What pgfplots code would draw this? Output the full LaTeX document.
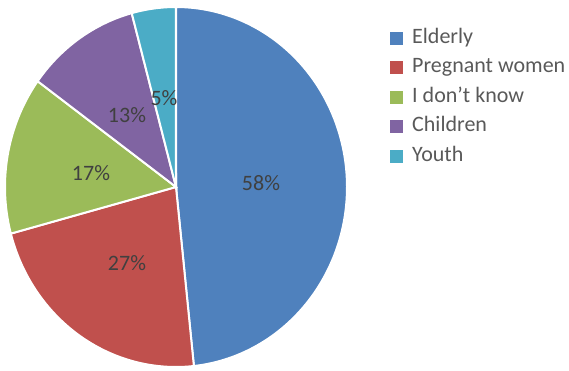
\documentclass[border=0pt]{standalone}
\usepackage{pgfplots}
\pgfplotsset{compat=1.18}
\usepackage{fontspec}
\setmainfont{Carlito}
\definecolor{cElderly}{HTML}{4F81BD}
\definecolor{cPregnant}{HTML}{C0504D}
\definecolor{cDontknow}{HTML}{9BBB59}
\definecolor{cChildren}{HTML}{8064A2}
\definecolor{cYouth}{HTML}{4BACC6}
\definecolor{labelgray}{HTML}{404040}
\definecolor{legendgray}{HTML}{595959}
% data (percent values as shown on the chart)
\def\vA{58}\def\vB{27}\def\vC{17}\def\vD{13}\def\vE{5}
\pgfmathsetmacro\tot{\vA+\vB+\vC+\vD+\vE}
\pgfmathsetmacro\aA{90-\vA/\tot*360}
\pgfmathsetmacro\aB{\aA-\vB/\tot*360}
\pgfmathsetmacro\aC{\aB-\vC/\tot*360}
\pgfmathsetmacro\aD{\aC-\vD/\tot*360}
\pgfmathsetmacro\aE{\aD-\vE/\tot*360}
\def\cx{176}\def\cy{183}\def\rx{171}\def\ry{180}
\begin{document}
\begin{tikzpicture}
\begin{axis}[
  scale only axis, width=569pt, height=370pt,
  xmin=0, xmax=569, ymin=0, ymax=370,
  hide axis, clip=false,
  legend style={draw=none, fill=none, at={(axis cs:390,344)}, anchor=north west,
    inner sep=0pt, row sep=5.5pt, column sep=7pt, text=legendgray,
    font=\fontsize{22}{26}\selectfont,
    nodes={text height=15pt, text depth=5pt, inner sep=2pt}},
  legend image code/.code={\fill[#1,draw=none] (0pt,-6.5pt) rectangle (13pt,6.5pt);},
  legend cell align=left,
]
\path (axis cs:0,0) rectangle (axis cs:569,370);
\addplot[fill=cElderly, draw=white, line width=2pt, domain=\aA:90, samples=150]
  ({\cx+\rx*cos(x)},{\cy+\ry*sin(x)}) -- (axis cs:\cx,\cy) -- cycle;
\addlegendentry{Elderly}
\addplot[fill=cPregnant, draw=white, line width=2pt, domain=\aB:\aA, samples=80]
  ({\cx+\rx*cos(x)},{\cy+\ry*sin(x)}) -- (axis cs:\cx,\cy) -- cycle;
\addlegendentry{Pregnant women}
\addplot[fill=cDontknow, draw=white, line width=2pt, domain=\aC:\aB, samples=60]
  ({\cx+\rx*cos(x)},{\cy+\ry*sin(x)}) -- (axis cs:\cx,\cy) -- cycle;
\addlegendentry{I don’t know}
\addplot[fill=cChildren, draw=white, line width=2pt, domain=\aD:\aC, samples=50]
  ({\cx+\rx*cos(x)},{\cy+\ry*sin(x)}) -- (axis cs:\cx,\cy) -- cycle;
\addlegendentry{Children}
\addplot[fill=cYouth, draw=white, line width=2pt, domain=\aE:\aD, samples=30]
  ({\cx+\rx*cos(x)},{\cy+\ry*sin(x)}) -- (axis cs:\cx,\cy) -- cycle;
\addlegendentry{Youth}
\begin{scope}[every node/.style={text=labelgray, font=\fontsize{22}{26}\selectfont, inner sep=0pt}]
\node at (axis cs:261,187) {\vA\%};
\node at (axis cs:127,107) {\vB\%};
\node at (axis cs:91,197) {\vC\%};
\node at (axis cs:127,255) {\vD\%};
\node at (axis cs:164,272) {\vE\%};
\end{scope}
\end{axis}
\end{tikzpicture}
\end{document}
